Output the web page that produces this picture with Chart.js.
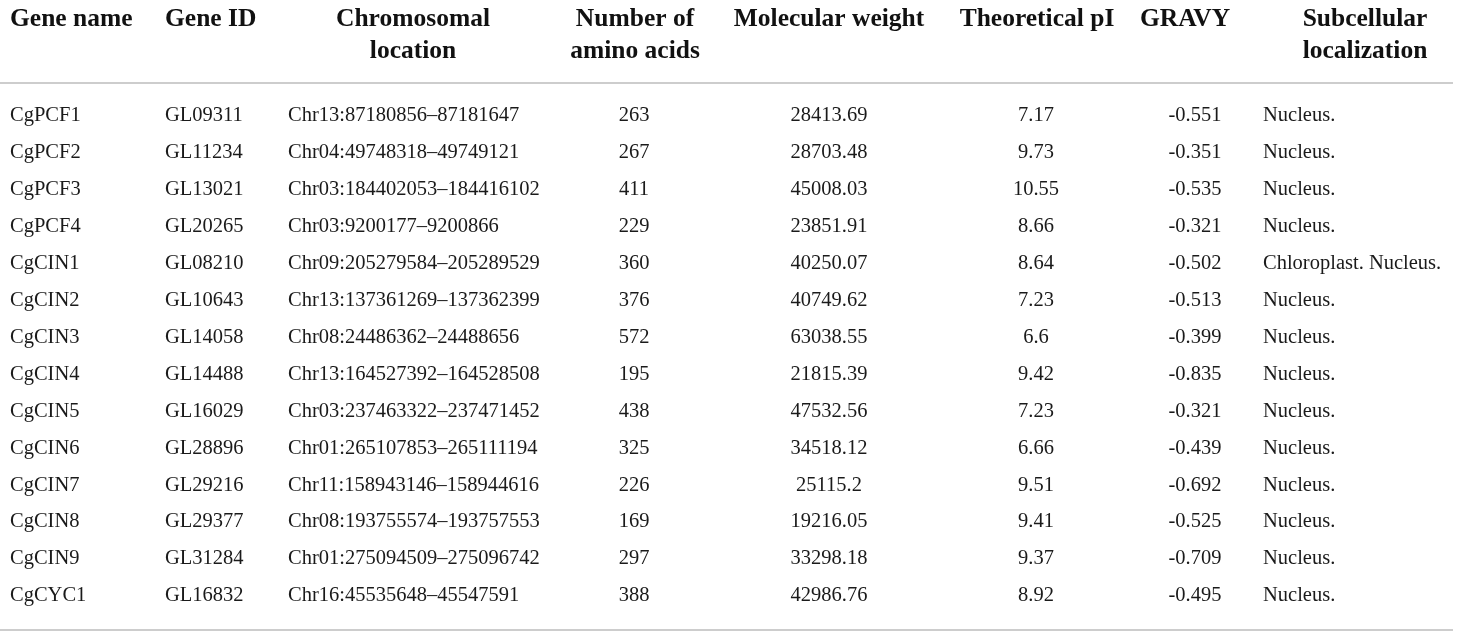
<!DOCTYPE html>
<html>
<head>
<meta charset="utf-8">
<script src="https://cdn.jsdelivr.net/npm/chart.js@4/dist/chart.umd.min.js"></script>
<style>
  body { margin: 0; background: #fff; }
  #wrap { width: 1460px; height: 638px; }
</style>
</head>
<body>
<div id="wrap"><canvas id="table"></canvas></div>
<script>
// table data, one list per column
const headers = [
    ['Gene name'], ['Gene ID'], ['Chromosomal', 'location'], ['Number of', 'amino acids'],
    ['Molecular weight'], ['Theoretical pI'], ['GRAVY'], ['Subcellular', 'localization']
];
const geneNames = ['CgPCF1', 'CgPCF2', 'CgPCF3', 'CgPCF4', 'CgCIN1', 'CgCIN2', 'CgCIN3',
    'CgCIN4', 'CgCIN5', 'CgCIN6', 'CgCIN7', 'CgCIN8', 'CgCIN9', 'CgCYC1'];
const geneIds = ['GL09311', 'GL11234', 'GL13021', 'GL20265', 'GL08210', 'GL10643', 'GL14058',
    'GL14488', 'GL16029', 'GL28896', 'GL29216', 'GL29377', 'GL31284', 'GL16832'];
const locations = ['Chr13:87180856–87181647', 'Chr04:49748318–49749121', 'Chr03:184402053–184416102',
    'Chr03:9200177–9200866', 'Chr09:205279584–205289529', 'Chr13:137361269–137362399',
    'Chr08:24486362–24488656', 'Chr13:164527392–164528508', 'Chr03:237463322–237471452',
    'Chr01:265107853–265111194', 'Chr11:158943146–158944616', 'Chr08:193755574–193757553',
    'Chr01:275094509–275096742', 'Chr16:45535648–45547591'];
const aminoAcids = [263, 267, 411, 229, 360, 376, 572, 195, 438, 325, 226, 169, 297, 388];
const molWeights = ['28413.69', '28703.48', '45008.03', '23851.91', '40250.07', '40749.62', '63038.55',
    '21815.39', '47532.56', '34518.12', '25115.2', '19216.05', '33298.18', '42986.76'];
const pIs = ['7.17', '9.73', '10.55', '8.66', '8.64', '7.23', '6.6', '9.42', '7.23', '6.66', '9.51',
    '9.41', '9.37', '8.92'];
const gravy = ['-0.551', '-0.351', '-0.535', '-0.321', '-0.502', '-0.513', '-0.399', '-0.835',
    '-0.321', '-0.439', '-0.692', '-0.525', '-0.709', '-0.495'];
const localization = ['Nucleus.', 'Nucleus.', 'Nucleus.', 'Nucleus.', 'Chloroplast. Nucleus.',
    'Nucleus.', 'Nucleus.', 'Nucleus.', 'Nucleus.', 'Nucleus.', 'Nucleus.', 'Nucleus.', 'Nucleus.',
    'Nucleus.'];

// layout: anchor of each column on the x scale, and how the text sits on it
const cellX = [10, 165, 288, 634, 829, 1036, 1195, 1263];
const cellAlign = ['left', 'left', 'left', 'center', 'center', 'center', 'center', 'left'];
const headX = [10, 165, 413, 635, 829, 1037, 1185, 1365];
const headAlign = ['left', 'left', 'center', 'center', 'center', 'center', 'center', 'center'];

document.addEventListener("DOMContentLoaded", function() {
    const ctx = document.getElementById('table').getContext('2d');
    const columns = [geneNames, geneIds, locations, aminoAcids, molWeights, pIs, gravy, localization];

    // draws the header, the rules and every cell through the scales
    const tablePlugin = {
        id: 'tableCells',
        afterDraw(chart) {
            const c = chart.ctx;
            const xs = chart.scales.x;
            const ys = chart.scales.y;
            c.save();

            // header
            c.fillStyle = '#111';
            c.font = 'bold 25.5px "Liberation Serif"';
            c.textBaseline = 'middle';
            headers.forEach((lines, i) => {
                c.textAlign = headAlign[i];
                lines.forEach((t, k) => c.fillText(t, xs.getPixelForValue(headX[i]), 19 + k * 32));
            });

            // rules
            c.strokeStyle = '#bdbdbd';
            c.lineWidth = 1.5;
            [83, 630].forEach(y => {
                c.beginPath();
                c.moveTo(xs.getPixelForValue(0), y);
                c.lineTo(xs.getPixelForValue(1453), y);
                c.stroke();
            });

            // body cells
            c.fillStyle = '#1a1a1a';
            c.font = '20.5px "Liberation Serif"';
            columns.forEach((col, i) => {
                c.textAlign = cellAlign[i];
                col.forEach((v, r) => {
                    c.fillText(String(v), xs.getPixelForValue(cellX[i]), ys.getPixelForValue(r) + 1);
                });
            });
            c.restore();
        }
    };

    new Chart(ctx, {
        type: 'bar',
        data: {
            labels: geneNames,
            datasets: [{ label: 'cells', data: [] }]
        },
        options: {
            indexAxis: 'y',
            responsive: true,
            maintainAspectRatio: false,
            animation: false,
            layout: { padding: { top: 96, bottom: 24.5, left: 0, right: 0 } },
            plugins: { legend: { display: false }, tooltip: { enabled: false } },
            scales: {
                x: { type: 'linear', min: 0, max: 1460, display: false },
                y: { type: 'category', offset: true, display: false }
            }
        },
        plugins: [tablePlugin]
    });
});
</script>
</body>
</html>
